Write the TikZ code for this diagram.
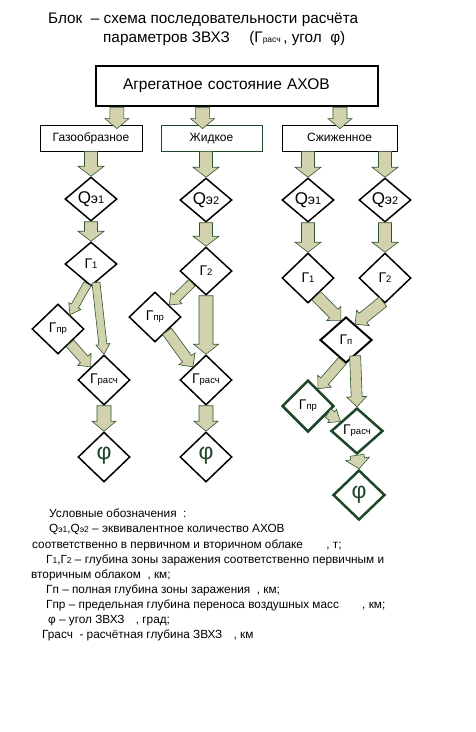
\documentclass[tikz,border=0pt]{standalone}
\usepackage{fontspec}
\setmainfont{Liberation Sans}
\usetikzlibrary{shapes.geometric,calc,positioning}

\definecolor{arrfill}{RGB}{210,210,174}
\definecolor{arrline}{RGB}{45,85,45}
\definecolor{dkgreen}{RGB}{30,70,40}

\tikzset{
  state/.style={draw, rectangle, line width=0.8pt, minimum height=26pt, inner sep=0pt, text height=8.5pt, text depth=2.5pt, font=\fontsize{12}{14}\selectfont},
  rhomb/.style={draw, diamond, line width=1.5pt, inner sep=0pt, minimum width=52pt, minimum height=48pt, font=\fontsize{14}{16}\selectfont},
  greenrhomb/.style={rhomb, draw=dkgreen, line width=2.5pt},
  fatarr/.style={fill=arrfill, draw=arrline, line width=0.6pt, line join=miter},
  legend/.style={anchor=base west, inner sep=0pt, font=\fontsize{11.8}{13}\selectfont},
  heading/.style={anchor=base west, inner sep=0pt, font=\fontsize{15.3}{17}\selectfont}
}

\newcommand{\sub}[1]{{\fontsize{9.5}{10}\selectfont #1}}
\newcommand{\lsub}[1]{{\fontsize{8.5}{9}\selectfont #1}}
\newcommand{\qe}[1]{Q{\fontsize{14}{14}\selectfont э}{\fontsize{11}{11}\selectfont #1}}
\newcommand{\phiglyph}{{\fontsize{23}{23}\selectfont\color{dkgreen}φ}}

% fat arrow: #1 shaft half width, #2 head half width, #3 from, #4 to
\newcommand{\bigarrow}[4]{%
  \path ($(#4)!10pt!(#3)$) coordinate (h);
  \draw[fatarr] ($(#3)!#1!90:(#4)$) -- ($(h)!#1!90:(#4)$) -- ($(h)!#2!90:(#4)$) -- (#4)
    -- ($(h)!#2!-90:(#4)$) -- ($(h)!#1!-90:(#4)$) -- ($(#3)!#1!-90:(#4)$) -- cycle;}

\begin{document}
\begin{tikzpicture}[x=1pt, y=-1pt]
  \useasboundingbox (0,0) rectangle (476,732);

  % Title
  \node[heading] (title1) at (48,23) {Блок \ – схема последовательности расчёта};
  \node[heading] (title2) at (103,42) {параметров ЗВХЗ \quad (Г\lsub{расч}\,, угол \ φ)};

  % States
  \node[draw, line width=2.5pt, minimum height=40pt, text width=228pt, inner xsep=27pt, inner ysep=0pt,
        align=left, font=\fontsize{15.5}{17}\selectfont] (aggr) at (237,86) {Агрегатное состояние АХОВ};
  \node[state, minimum width=102pt] (gaz) at (91,138) {Газообразное};
  \node[state, draw=dkgreen, minimum width=101pt] (zhid) at (211.5,138) {Жидкое};
  \node[state, minimum width=115pt] (szh) at (339.5,138) {Сжиженное};

  % Diamonds, left column
  \node[rhomb, minimum height=44pt, font=\fontsize{17}{17}\selectfont] (q1l) at (91,199) {\qe{1}};
  \node[rhomb, minimum height=44pt] (g1l) at (91,264) {Г\sub{1}};
  \node[rhomb, minimum height=50pt] (gprl) at (58,329) {Г\sub{пр}};
  \node[rhomb, minimum height=50pt] (grl) at (104,380) {Г\sub{расч}};
  \node[rhomb, minimum height=50pt] (phil) at (104,457) {\raisebox{7pt}{\phiglyph}};

  % Diamonds, middle column
  \node[rhomb, minimum height=44pt, font=\fontsize{17}{17}\selectfont] (q2m) at (206,200) {\qe{2}};
  \node[rhomb] (g2m) at (206,271) {Г\sub{2}};
  \node[rhomb, minimum height=50pt] (gprm) at (155,317) {Г\sub{пр}};
  \node[rhomb, minimum height=50pt] (grm) at (206,380) {Г\sub{расч}};
  \node[rhomb, minimum height=50pt] (phim) at (206,457) {\raisebox{7pt}{\phiglyph}};

  % Diamonds, right column
  \node[rhomb, minimum height=44pt, font=\fontsize{17}{17}\selectfont] (q1r) at (308,200) {\qe{1}};
  \node[rhomb, minimum height=44pt, font=\fontsize{17}{17}\selectfont] (q2r) at (385,200) {\qe{2}};
  \node[rhomb, minimum height=50pt] (g1r) at (308,278) {Г\sub{1}};
  \node[rhomb, minimum height=50pt] (g2r) at (385,278) {Г\sub{2}};
  \node[rhomb, line width=2pt, minimum height=46pt] (gp) at (346,340) {Г\sub{п}};
  \node[greenrhomb, minimum height=52pt] (gprr) at (308,406) {Г\sub{пр}};
  \node[greenrhomb, minimum height=46pt] (grr) at (357,431) {Г\sub{расч}};
  \node[greenrhomb, minimum height=50pt] (phir) at (359,495) {\raisebox{3pt}{\phiglyph}};

  % Arrows from the top box
  \coordinate (s1) at ($(aggr.south west)!0.078!(aggr.south east)$);
  \coordinate (s2) at ($(aggr.south west)!0.379!(aggr.south east)$);
  \coordinate (s3) at ($(aggr.south west)!0.862!(aggr.south east)$);
  \path (s1 |- gaz.north) ++(0,4) coordinate (e1);
  \path (s2 |- zhid.north) ++(0,4) coordinate (e2);
  \path (s3 |- szh.north) ++(0,4) coordinate (e3);
  \bigarrow{7pt}{12pt}{s1}{e1}
  \bigarrow{7pt}{12pt}{s2}{e2}
  \bigarrow{7pt}{12pt}{s3}{e3}

  % Arrows from the states
  \coordinate (zs) at (zhid.south -| q2m.north);
  \coordinate (sa) at (szh.south -| q1r.north);
  \coordinate (sb) at (szh.south -| q2r.north);
  \bigarrow{6.5pt}{13pt}{gaz.south}{q1l.north}
  \bigarrow{6.5pt}{13pt}{zs}{q2m.north}
  \bigarrow{6.5pt}{13pt}{sa}{q1r.north}
  \bigarrow{6.5pt}{13pt}{sb}{q2r.north}

  % Q -> G
  \bigarrow{6.5pt}{13pt}{q1l.south}{g1l.north}
  \bigarrow{6.5pt}{13pt}{q2m.south}{g2m.north}
  \bigarrow{6.5pt}{13pt}{q1r.south}{g1r.north}
  \bigarrow{6.5pt}{13pt}{q2r.south}{g2r.north}

  % Left column
  \bigarrow{4pt}{7pt}{g1l.260}{gprl.50}
  \bigarrow{4pt}{7pt}{g1l.285}{grl.north}
  \bigarrow{5pt}{9pt}{gprl.-50}{grl.135}
  \bigarrow{7pt}{12pt}{grl.south}{phil.north}

  % Middle column
  \bigarrow{4.5pt}{8pt}{g2m.220}{gprm.40}
  \bigarrow{7pt}{12.5pt}{g2m.south}{grm.north}
  \bigarrow{5.5pt}{10pt}{gprm.-50}{grm.135}
  \bigarrow{7pt}{12pt}{grm.south}{phim.north}

  % Right column
  \bigarrow{6pt}{10pt}{g1r.295}{gp.105}
  \bigarrow{6pt}{10pt}{g2r.265}{gp.60}
  \bigarrow{5pt}{9pt}{gp.260}{gprr.60}
  \bigarrow{5.5pt}{10pt}{gp.-60}{grr.north}
  \bigarrow{5pt}{8pt}{gprr.-20}{grr.150}
  \bigarrow{7pt}{12pt}{grr.south}{phir.north}

  % Legend
  \node[legend] (leg1) at (49,517) {Условные обозначения \ :};
  \node[legend] (leg2) at (49,532) {Q\lsub{э1},Q\lsub{э2} – эквивалентное количество АХОВ};
  \node[legend] (leg3) at (32,548) {соответственно в первичном и вторичном облаке \hspace{20pt}, т;};
  \node[legend] (leg4) at (46,563) {Г\lsub{1},Г\lsub{2} – глубина зоны заражения соответственно первичным и};
  \node[legend] (leg5) at (31,578) {вторичным облаком \ , км;};
  \node[legend] (leg6) at (46,593) {Гп – полная глубина зоны заражения \ , км;};
  \node[legend] (leg7) at (46,608) {Гпр – предельная глубина переноса воздушных масс \hspace{20pt}, км;};
  \node[legend] (leg8) at (48,623) {φ – угол ЗВХЗ \hspace{8pt}, град;};
  \node[legend] (leg9) at (42,638) {Грасч \ - расчётная глубина ЗВХЗ \hspace{8pt}, км};
\end{tikzpicture}
\end{document}
